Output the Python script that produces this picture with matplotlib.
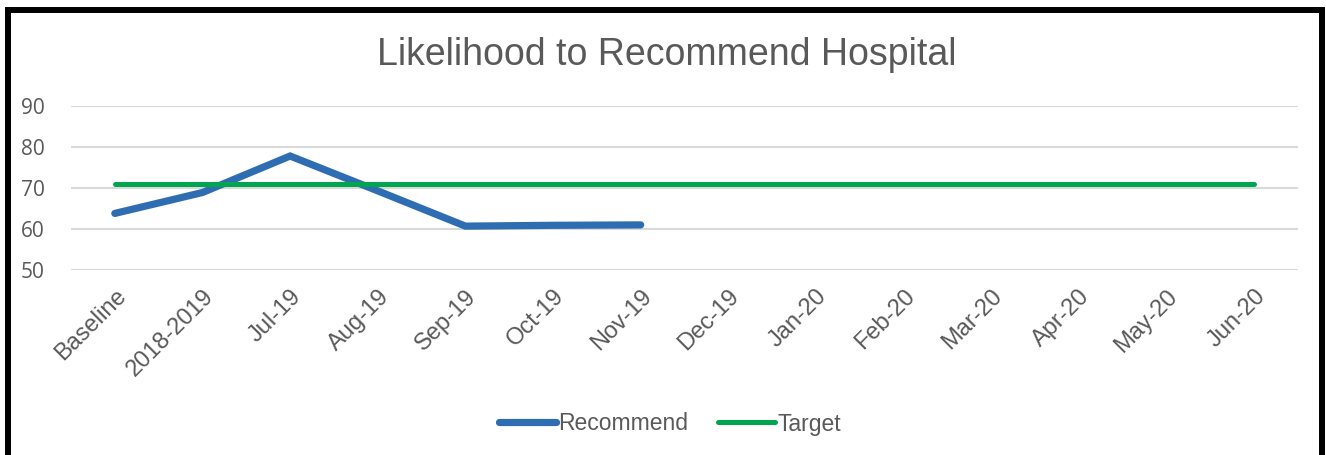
import matplotlib
matplotlib.use('Agg')
import numpy as np
from matplotlib import pyplot as plt
from matplotlib.patches import Rectangle
from matplotlib.transforms import ScaledTranslation

categories = ['Baseline', '2018-2019', 'Jul-19', 'Aug-19', 'Sep-19', 'Oct-19', 'Nov-19',
              'Dec-19', 'Jan-20', 'Feb-20', 'Mar-20', 'Apr-20', 'May-20', 'Jun-20']
recommend = [63.8, 68.9, 77.8, 69.3, 60.7, 60.9, 61.0]
target = [71] * len(categories)
yticks = [50, 60, 70, 80, 90]

TXT = '#595959'
plt.rcParams['font.family'] = ['Liberation Sans', 'DejaVu Sans']

fig = plt.figure(figsize=(13.26, 4.55), dpi=100)
ax = fig.add_axes([71/1326, 1-270/455, (1298-71)/1326, (270-106)/455])

x = np.arange(len(categories))
ax.plot(x[:len(recommend)], recommend, color='#2f6db3', lw=5.2,
        solid_capstyle='round', solid_joinstyle='miter', label='Recommend', zorder=3)
ax.plot(x, target, color='#00a550', lw=3.6, solid_capstyle='round', label='Target', zorder=4)

ax.set_xlim(-0.5, len(categories) - 0.5)
ax.set_ylim(50, 90)
ax.set_yticks(yticks)
ax.set_yticklabels([str(v) for v in yticks], fontsize=15, color=TXT, family=['Open Sans'])
ax.set_xticks(x)
ax.set_xticklabels(categories, rotation=45, ha='right', va='top', rotation_mode='anchor',
                   fontsize=17, color=TXT)
shift = ScaledTranslation(-4/100, 0, fig.dpi_scale_trans)
for lbl in ax.get_xticklabels():
    lbl.set_transform(lbl.get_transform() + shift)
ax.tick_params(axis='both', length=0)
ax.tick_params(axis='y', pad=19)
ax.tick_params(axis='x', pad=11)
ax.grid(axis='y', color='#d9d9d9', lw=1.5)
ax.set_axisbelow(True)
for s in ax.spines.values():
    s.set_visible(False)

fig.text(0.503, 1-65/455, 'Likelihood to Recommend Hospital', ha='center', va='baseline',
         fontsize=27, color=TXT)

fig.legend(loc='center', bbox_to_anchor=(670/1326, 1-424/455), ncol=2, frameon=False,
           fontsize=16.5, labelcolor=TXT, handlelength=2.5, handletextpad=0.1,
           columnspacing=1.3)

fig.patches.append(Rectangle((8/1326, -0.1), (1322-8)/1326, 1.1 - 10/455, fill=False,
                             edgecolor='black', lw=4.3, transform=fig.transFigure,
                             figure=fig, clip_on=False))

fig.savefig('out.png', dpi=100)
